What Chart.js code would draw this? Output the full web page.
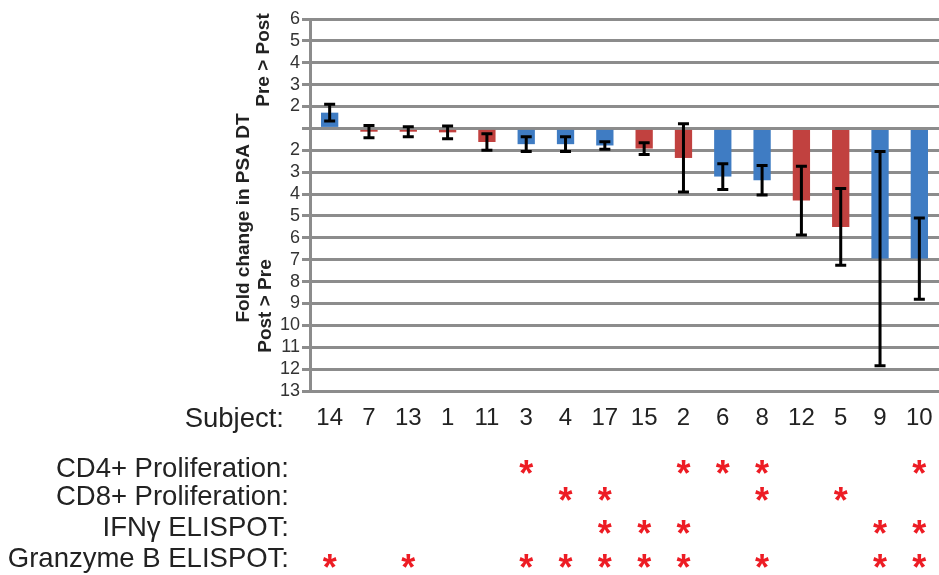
<!DOCTYPE html>
<html><head><meta charset="utf-8">
<script src="https://cdn.jsdelivr.net/npm/chart.js@4/dist/chart.umd.min.js"></script>
<style>html,body{margin:0;padding:0;background:#fff}#wrap{width:939px;height:575px;position:relative}</style>
</head><body><div id="wrap"><canvas id="c"></canvas></div>
<script>
// ---- data ----
const subjects = ['14','7','13','1','11','3','4','17','15','2','6','8','12','5','9','10'];
// signed change in PSA DT: positive = Pre > Post (fold - 1), negative = Post > Pre (-(fold - 1))
const foldChange = [0.72,-0.15,-0.15,-0.18,-0.62,-0.72,-0.72,-0.78,-0.92,-1.35,-2.2,-2.37,-3.3,-4.5,-5.95,-5.95];
const errorHalf  = [0.38,0.28,0.23,0.29,0.38,0.34,0.34,0.17,0.27,1.56,0.59,0.67,1.57,1.75,4.9,1.86];
const group      = ['A','B','B','B','B','A','A','A','B','B','A','A','B','B','A','A'];
const yTickValues = [-12,-11,-10,-9,-8,-7,-6,-5,-4,-3,-2,-1,0,1,2,3,4,5];
const yTickLabels = ['13','12','11','10','9','8','7','6','5','4','3','2','','2','3','4','5','6'];
const rowLabels = ['CD4+ Proliferation:','CD8+ Proliferation:','IFN\u03B3 ELISPOT:','Granzyme B ELISPOT:'];
const cd4Prolif  = [0,0,0,0,0,1,0,0,0,1,1,1,0,0,0,1];
const cd8Prolif  = [0,0,0,0,0,0,1,1,0,0,0,1,0,1,0,0];
const ifngSpot   = [0,0,0,0,0,0,0,1,1,1,0,0,0,0,1,1];
const grzbSpot   = [1,0,1,0,0,1,1,1,1,1,0,1,0,0,1,1];
const rowFlags = [cd4Prolif, cd8Prolif, ifngSpot, grzbSpot];

// ---- styles ----
const FONT = "'Liberation Sans', Arial, sans-serif";
const groupColor = {A:'#3f7cc3', B:'#c1413f'};
const rowY = [469, 497, 528, 559];
const starY = [467, 494, 527, 561];

const errorBars = {
  id:'errorBars',
  afterDatasetsDraw(chart){
    const ctx = chart.ctx, y = chart.scales.y;
    const meta = chart.getDatasetMeta(0);
    ctx.save();
    ctx.strokeStyle = '#000'; ctx.lineWidth = 3; ctx.lineCap = 'butt';
    meta.data.forEach((bar,i)=>{
      const x = bar.x;
      const t = y.getPixelForValue(foldChange[i] + errorHalf[i]);
      const b = y.getPixelForValue(foldChange[i] - errorHalf[i]);
      ctx.beginPath();
      ctx.moveTo(x, t); ctx.lineTo(x, b);
      ctx.moveTo(x-5.5, t); ctx.lineTo(x+5.5, t);
      ctx.moveTo(x-5.5, b); ctx.lineTo(x+5.5, b);
      ctx.stroke();
    });
    ctx.restore();
  }
};

const annotations = {
  id:'annotations',
  afterDraw(chart){
    const ctx = chart.ctx, xs = chart.scales.x;
    ctx.save();
    ctx.fillStyle = '#222';
    const rot = (txt, x, y) => {
      ctx.save(); ctx.translate(x, y); ctx.rotate(-Math.PI/2);
      ctx.textAlign = 'center'; ctx.textBaseline = 'middle';
      ctx.fillText(txt, 0, 0); ctx.restore();
    };
    ctx.font = "bold 19px " + FONT;
    rot('Fold change in PSA DT', 244, 218);
    rot('Pre > Post', 264, 60);
    rot('Post > Pre', 266, 306);
    ctx.font = "27.5px " + FONT;
    ctx.textAlign = 'right'; ctx.textBaseline = 'middle';
    ctx.fillText('Subject:', 284, 419);
    ctx.font = "27.5px " + FONT;
    rowLabels.forEach((l,r)=> ctx.fillText(l, 289, rowY[r]));
    ctx.font = "bold 36px " + FONT;
    ctx.fillStyle = '#ed1c24';
    ctx.textAlign = 'center'; ctx.textBaseline = 'alphabetic';
    const m = ctx.measureText('*');
    const mid = (m.actualBoundingBoxAscent - m.actualBoundingBoxDescent)/2;
    rowFlags.forEach((flags,r)=>{
      flags.forEach((f,i)=>{
        if(f){ ctx.fillText('*', xs.getPixelForValue(i), starY[r] + mid); }
      });
    });
    ctx.restore();
  }
};

new Chart(document.getElementById('c'), {
  type:'bar',
  data:{
    labels: subjects,
    datasets:[{
      data: foldChange,
      backgroundColor: group.map(g=>groupColor[g]),
      borderWidth:0,
      barPercentage:0.44,
      categoryPercentage:1
    }]
  },
  options:{
    responsive:true, maintainAspectRatio:false, animation:false,
    layout:{padding:{top:19,left:0,right:0,bottom:0}},
    plugins:{legend:{display:false}, tooltip:{enabled:false}},
    scales:{
      x:{
        grid:{display:false, drawTicks:false},
        border:{display:false},
        ticks:{font:{family:FONT,size:24}, color:'#222', padding:13, maxRotation:0, autoSkip:false},
        afterFit(s){ s.height = 184; s.paddingLeft = 0; s.paddingRight = 0; }
      },
      y:{
        min:-12, max:5,
        afterBuildTicks(s){ s.ticks = yTickValues.map(v=>({value:v})); },
        grid:{color:'#8c8c8c', lineWidth:3, drawTicks:true, tickLength:8},
        border:{display:true, color:'#8c8c8c', width:3},
        ticks:{
          font:{family:FONT,size:18}, color:'#333', padding:2, autoSkip:false,
          callback(v){ const k = yTickValues.indexOf(v); return k>=0 ? yTickLabels[k] : ''; }
        },
        afterFit(s){ s.width = 310; }
      }
    }
  },
  plugins:[errorBars, annotations]
});
</script></body></html>
